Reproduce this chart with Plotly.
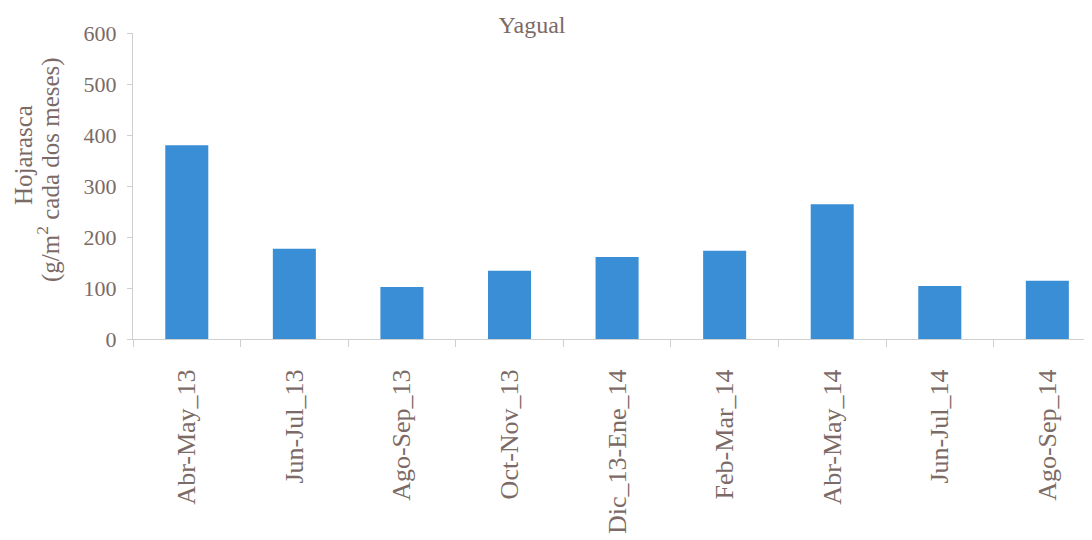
import plotly.graph_objects as go

categories = ["Abr-May_13", "Jun-Jul_13", "Ago-Sep_13", "Oct-Nov_13", "Dic_13-Ene_14",
              "Feb-Mar_14", "Abr-May_14", "Jun-Jul_14", "Ago-Sep_14"]
values = [380, 177, 102, 134, 161, 173, 264, 104, 114]
y_ticks = [0, 100, 200, 300, 400, 500, 600]

TXT = "#7b6a66"
AX = "#cfcfcf"
FONT = "Liberation Serif, Times New Roman, serif"

W, H = 1084, 532  # page body adds an 8px offset

fig = go.Figure()
fig.add_trace(go.Bar(x=categories, y=values, marker=dict(color="#3a8ed5", line=dict(width=0)),
                     width=0.4))

fig.update_layout(
    width=W, height=H,
    margin=dict(l=125, r=0, t=25, b=201, autoexpand=False),
    paper_bgcolor="white", plot_bgcolor="white",
    showlegend=False,
    font=dict(family=FONT, color=TXT),
    title=dict(text="Yagual", x=524 / W, xref="container", xanchor="center",
               y=1 - 17 / H, yref="container", yanchor="middle",
               font=dict(family=FONT, size=24, color=TXT)),
)
fig.update_xaxes(
    range=[-0.5, 8.415], showline=True, linecolor=AX, linewidth=1,
    ticks="outside", tickson="boundaries", ticklen=7, tickcolor=AX,
    tickangle=-90, tickfont=dict(family=FONT, size=26, color=TXT),
    ticklabelstandoff=19, showgrid=False, zeroline=False, automargin=False,
)
fig.update_yaxes(
    range=[0, 600], tickvals=y_ticks, showline=True, linecolor=AX, linewidth=1,
    ticks="outside", ticklen=5, tickcolor=AX,
    tickfont=dict(family=FONT, size=22, color=TXT),
    ticklabelstandoff=6, showgrid=False, zeroline=False, automargin=False,
)
fig.add_annotation(text="Hojarasca", xref="paper", yref="paper",
                   x=(23 - 133) / 959, y=(339 - 155) / 306, textangle=-90,
                   showarrow=False, xanchor="center", yanchor="middle",
                   font=dict(family=FONT, size=25, color=TXT))
fig.add_annotation(text="(g/m<sup>2</sup> cada dos meses)", xref="paper", yref="paper",
                   x=(48 - 133) / 959, y=(339 - 170) / 306, textangle=-90,
                   showarrow=False, xanchor="center", yanchor="middle",
                   font=dict(family=FONT, size=25, color=TXT))

fig.write_html("out.html")
